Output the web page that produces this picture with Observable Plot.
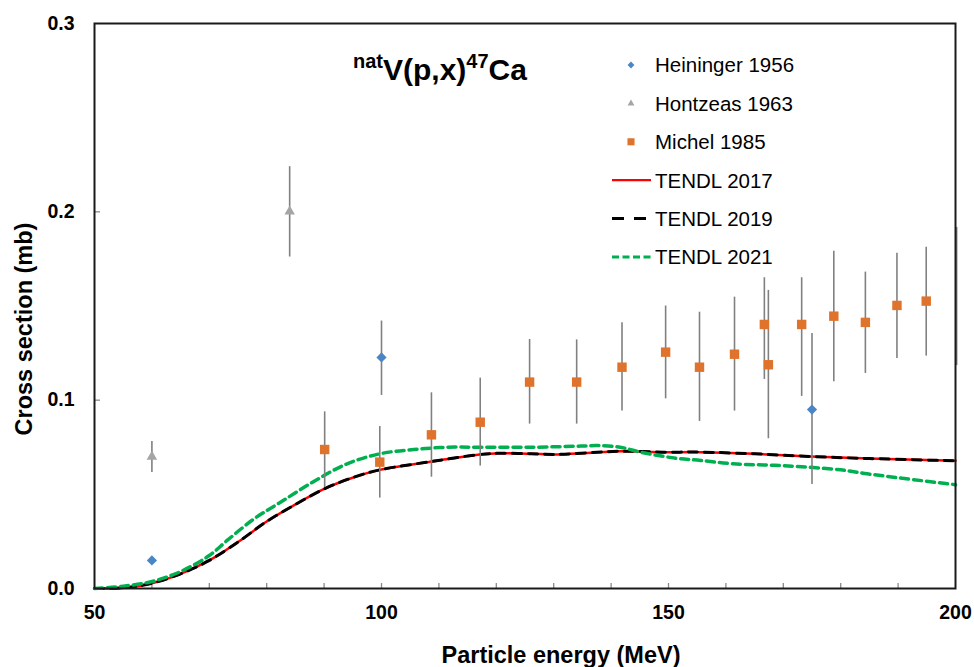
<!DOCTYPE html>
<html>
<head>
<meta charset="utf-8">
<script src="https://cdn.jsdelivr.net/npm/d3@7"></script>
<script src="https://cdn.jsdelivr.net/npm/@observablehq/plot@0.6"></script>
<style>
  body { margin: 0; background: #fff; }
  #chart { width: 974px; height: 667px; }
</style>
</head>
<body>
<div id="chart"></div>
<script>
// ---------- data ----------
const heiningerE  = [60, 100, 175];
const heiningerXS = [0.0149, 0.1227, 0.0950];
const heiningerLo = [null, 0.1025, 0.0552];
const heiningerHi = [null, 0.1420, 0.1354];

const hontzeasE  = [60, 84];
const hontzeasXS = [0.0700, 0.2002];
const hontzeasLo = [0.0616, 0.1760];
const hontzeasHi = [0.0780, 0.2240];

const michelE  = [90.1, 99.7, 108.7, 117.2, 125.8, 134.0, 141.9, 149.5, 155.4, 161.5, 166.7, 167.4, 173.2, 178.8, 184.3, 189.8, 194.9];
const michelXS = [0.0738, 0.0671, 0.0816, 0.0883, 0.1096, 0.1096, 0.1175, 0.1255, 0.1175, 0.1244, 0.1402, 0.1188, 0.1402, 0.1446, 0.1413, 0.1503, 0.1526];
const michelLo = [0.0536, 0.0480, 0.0591, 0.0650, 0.0873, 0.0873, 0.0942, 0.1007, 0.0887, 0.0942, 0.1110, 0.0795, 0.1020, 0.1098, 0.1142, 0.1221, 0.1234];
const michelHi = [0.0938, 0.0860, 0.1039, 0.1117, 0.1322, 0.1320, 0.1411, 0.1500, 0.1467, 0.1547, 0.1650, 0.1583, 0.1650, 0.1791, 0.1680, 0.1780, 0.1812];
// error bar seen on the right edge (marker hidden by the frame)
const michelEdgeE  = [200.2];
const michelEdgeLo = [0.1184];
const michelEdgeHi = [0.1917];

const tendl2017E  = [50, 55.7, 60, 65, 70, 75.4, 79.8, 84.7, 90.1, 95.2, 99.7, 108.7, 117.2, 120.7, 126, 130.6, 135.8, 141.6, 149.2, 155.6, 165, 174.7, 185, 200];
const tendl2017XS = [0, 0.0005, 0.0028, 0.0078, 0.0149, 0.0255, 0.0352, 0.0441, 0.0530, 0.0591, 0.0630, 0.0674, 0.0712, 0.0718, 0.0715, 0.0712, 0.0720, 0.0729, 0.0724, 0.0724, 0.0715, 0.0701, 0.0690, 0.0678];
const tendl2019E  = [50, 55.7, 60, 65, 70, 75.4, 79.8, 84.7, 90.1, 95.2, 99.7, 108.7, 117.2, 120.7, 126, 130.6, 135.8, 141.6, 149.2, 155.6, 165, 174.7, 185, 200];
const tendl2019XS = [0, 0.0005, 0.0028, 0.0078, 0.0149, 0.0255, 0.0352, 0.0441, 0.0530, 0.0591, 0.0630, 0.0674, 0.0712, 0.0718, 0.0715, 0.0712, 0.0720, 0.0729, 0.0724, 0.0724, 0.0715, 0.0701, 0.0690, 0.0678];
const tendl2021E  = [50, 55, 60, 65, 70, 73.1, 77.8, 82.4, 88.2, 94, 99.7, 105.6, 111.4, 117.2, 126, 134.7, 137.6, 141.6, 145.1, 149.2, 152.1, 155.6, 161.3, 170, 180, 184.6, 190, 200];
const tendl2021XS = [0, 0.0012, 0.0037, 0.0090, 0.0175, 0.0255, 0.0370, 0.0458, 0.0568, 0.0662, 0.0715, 0.0738, 0.0750, 0.0750, 0.0750, 0.0756, 0.0759, 0.0750, 0.0724, 0.0701, 0.0689, 0.0680, 0.0662, 0.0652, 0.0630, 0.0609, 0.0588, 0.0551];

const xTickLabels = [50, 100, 150, 200];
const xMinorTicks = [60, 70, 80, 90, 100, 110, 120, 130, 140, 150, 160, 170, 180, 190];
const yTickLabels = [0, 0.1, 0.2, 0.3];
const yMinorTicks = [0.1, 0.2];

const legendNames = ["Heininger 1956", "Hontzeas 1963", "Michel 1985", "TENDL 2017", "TENDL 2019", "TENDL 2021"];

// ---------- tables ----------
const zip = (E, V, lo, hi) => E.map((e, i) => ({e, v: V ? V[i] : null, lo: lo ? lo[i] : null, hi: hi ? hi[i] : null}));
const heininger = zip(heiningerE, heiningerXS, heiningerLo, heiningerHi);
const hontzeas = zip(hontzeasE, hontzeasXS, hontzeasLo, hontzeasHi);
const michel = zip(michelE, michelXS, michelLo, michelHi);
const michelEdge = zip(michelEdgeE, null, michelEdgeLo, michelEdgeHi);
const t17 = zip(tendl2017E, tendl2017XS);
const t19 = zip(tendl2019E, tendl2019XS);
const t21 = zip(tendl2021E, tendl2021XS);
const bars = [...heininger, ...hontzeas, ...michel, ...michelEdge].filter(d => d.lo != null);

const FONT = "'Liberation Sans', Arial, Helvetica, sans-serif";
const C_BLUE = "#4a86c6", C_GREY = "#a5a5a5", C_ORANGE = "#e0732b", C_GREEN = "#00b050", C_RED = "#ff0000";

const plot = Plot.plot({
  width: 974,
  height: 667,
  marginLeft: 94,
  marginRight: 19,
  marginTop: 23,
  marginBottom: 79,
  style: {fontFamily: FONT, background: "#fff", color: "#000", overflow: "visible"},
  x: {domain: [50, 200]},
  y: {domain: [0, 0.3]},
  marks: [
    Plot.axisX(xMinorTicks, {tickSize: 5, dy: -5, stroke: "#8a8a8a", strokeWidth: 1.3, text: null, label: null}),
    Plot.axisY(yMinorTicks, {tickSize: 6, dx: 6, stroke: "#8a8a8a", strokeWidth: 1.3, text: null, label: null}),
    Plot.axisX(xTickLabels, {tickSize: 0, tickPadding: 17, fontSize: 19.5, fontWeight: "bold", label: null, fill: "#000"}),
    Plot.axisY(yTickLabels, {tickSize: 0, tickPadding: 20, fontSize: 19.5, fontWeight: "bold", label: null, tickFormat: d3.format(".1f"), fill: "#000"}),
    Plot.text(["Particle energy (MeV)"], {frameAnchor: "bottom", textAnchor: "middle", lineAnchor: "middle", dy: 67, dx: 36, fontSize: 23.5, fontWeight: "bold", fill: "#000"}),
    Plot.text(["Cross section (mb)"], {frameAnchor: "left", textAnchor: "middle", lineAnchor: "middle", dx: -70, dy: 23, rotate: -90, fontSize: 23.5, fontWeight: "bold", fill: "#000"}),
    Plot.line(t17, {x: "e", y: "v", stroke: C_RED, strokeWidth: 2.5, curve: "catmull-rom"}),
    Plot.line(t19, {x: "e", y: "v", stroke: "#000", strokeWidth: 3, strokeDasharray: "9,7", curve: "catmull-rom"}),
    Plot.line(t21, {x: "e", y: "v", stroke: C_GREEN, strokeWidth: 3.5, strokeDasharray: "8,5", curve: "catmull-rom"}),
    Plot.ruleX(bars, {x: "e", y1: "lo", y2: "hi", stroke: "#808080", strokeWidth: 1.6, clip: false}),
    Plot.dot(heininger, {x: "e", y: "v", symbol: "diamond2", r: 4.6, fill: C_BLUE, stroke: "none"}),
    Plot.dot(hontzeas, {x: "e", y: "v", symbol: "triangle2", r: 5, fill: C_GREY, stroke: "none"}),
    Plot.dot(michel, {x: "e", y: "v", symbol: "square2", r: 6, fill: C_ORANGE, stroke: "none"}),
    Plot.frame({stroke: "#1a1a1a", strokeWidth: 2})
  ]
});
document.getElementById("chart").appendChild(plot);

// ---------- title & legend ----------
const svg = d3.select(plot);
const title = svg.append("text")
  .attr("x", 440).attr("y", 80)
  .attr("text-anchor", "middle")
  .attr("font-family", FONT).attr("font-weight", "bold").attr("fill", "#000");
title.append("tspan").attr("font-size", 20).attr("dy", -12).text("nat");
title.append("tspan").attr("font-size", 30).attr("dy", 12).text("V(p,x)");
title.append("tspan").attr("font-size", 20).attr("dy", -12).text("47");
title.append("tspan").attr("font-size", 30).attr("dy", 12).text("Ca");

const lg = svg.append("g").attr("font-family", FONT).attr("font-size", 20.5).attr("fill", "#000").attr("text-anchor", "start");
const rowY = i => 65 + i * 38.4;
const sym = [d3.symbolDiamond2, d3.symbolTriangle2, d3.symbolSquare2];
const symColor = [C_BLUE, C_GREY, C_ORANGE];
const symSize = [30, 34, 64];
const lineStyle = [
  {stroke: C_RED, w: 2.2, dash: null},
  {stroke: "#000", w: 3, dash: "12,10"},
  {stroke: C_GREEN, w: 3, dash: "7,3.5"}
];
legendNames.forEach((name, i) => {
  const y = rowY(i);
  if (i < 3) {
    lg.append("path")
      .attr("transform", `translate(631,${y})`)
      .attr("d", d3.symbol(sym[i], symSize[i])())
      .attr("fill", symColor[i]);
  } else {
    const s = lineStyle[i - 3];
    lg.append("line").attr("x1", 612).attr("x2", 651).attr("y1", y).attr("y2", y)
      .attr("stroke", s.stroke).attr("stroke-width", s.w)
      .attr("stroke-dasharray", s.dash);
  }
  lg.append("text").attr("x", 655).attr("y", y).attr("dy", "0.36em").attr("text-anchor", "start").text(name);
});
</script>
</body>
</html>
